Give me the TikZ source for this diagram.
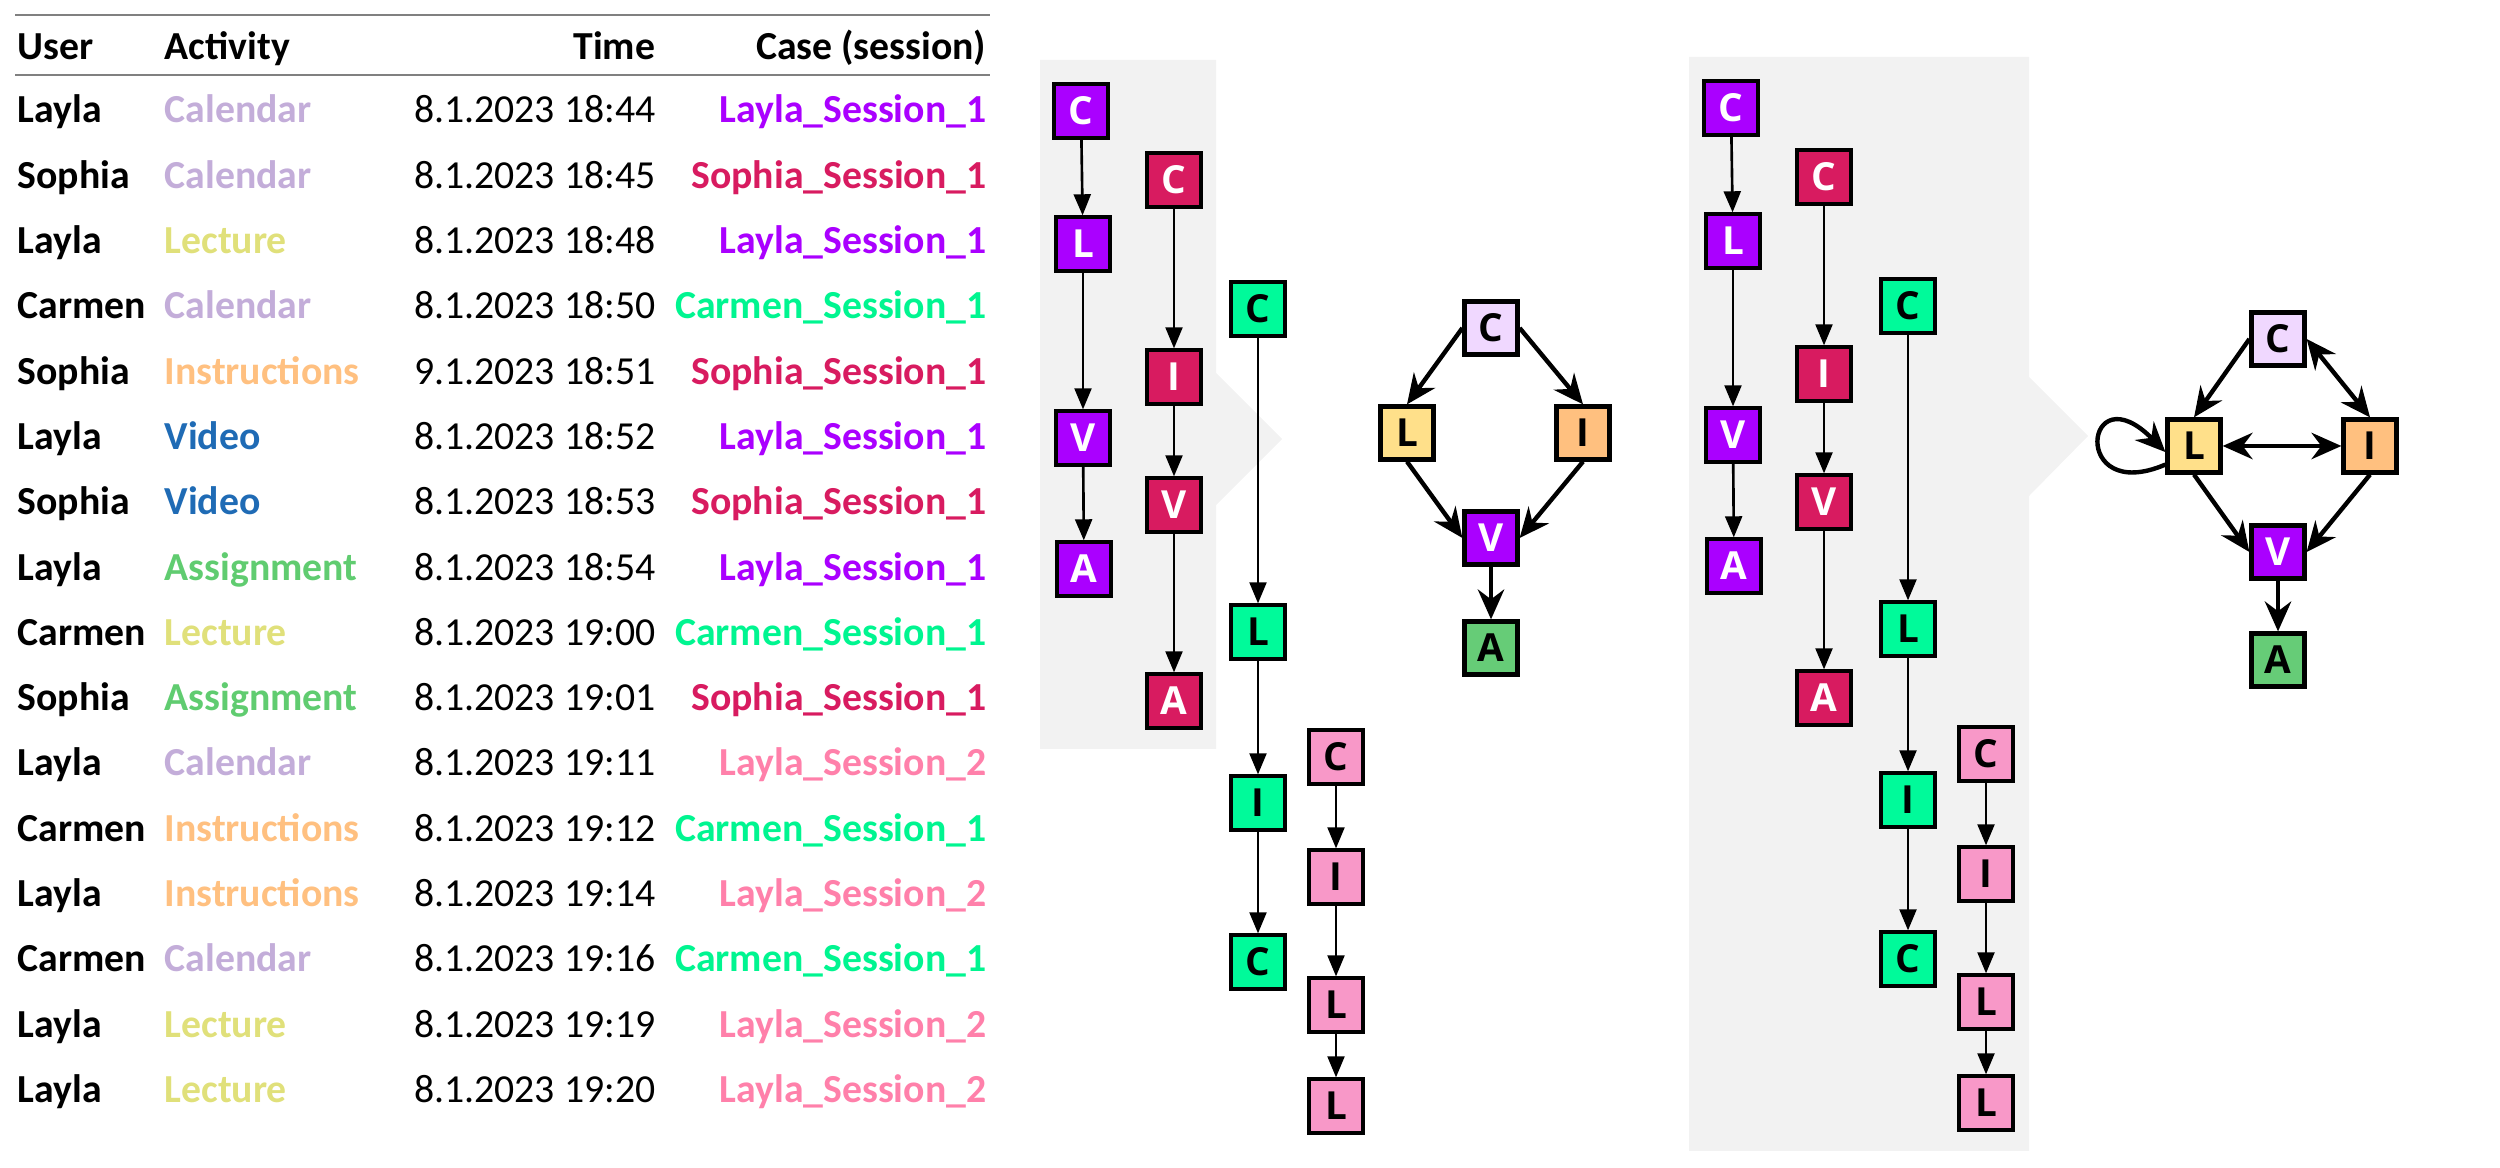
\documentclass[tikz,border=0pt]{standalone}
\usepackage{fontspec}
\setmainfont{Carlito}
\newfontfamily\letterfont{Open Sans}
\usetikzlibrary{arrows.meta}

\definecolor{layone}{HTML}{AA00FF}
\definecolor{sophone}{HTML}{D81B60}
\definecolor{carmtxt}{HTML}{00F590}
\definecolor{carmone}{HTML}{00FA9A}
\definecolor{laytwotxt}{HTML}{FF80AA}
\definecolor{laytwo}{HTML}{F898C8}
\definecolor{caltxt}{HTML}{C3ADD9}
\definecolor{lectxt}{HTML}{E0E07A}
\definecolor{instxt}{HTML}{FFC080}
\definecolor{vidtxt}{HTML}{1F6BB5}
\definecolor{asstxt}{HTML}{60CC70}
\definecolor{calfill}{HTML}{F0D8FF}
\definecolor{lecfill}{HTML}{FFE08A}
\definecolor{insfill}{HTML}{FFC07F}
\definecolor{assfill}{HTML}{66CC77}
\definecolor{panelgray}{HTML}{F2F2F2}
\definecolor{rulegray}{HTML}{808080}

\tikzset{
cell/.style={inner sep=0pt, font=\fontsize{11.3}{13}\selectfont},
trc/.style={draw, line width=0.9pt, minimum size=0.54cm, inner sep=0pt, font=\letterfont\bfseries\fontsize{11}{13}\selectfont},
dfg/.style={draw, line width=1.2pt, minimum size=0.53cm, inner sep=0pt, font=\letterfont\bfseries\fontsize{11}{13}\selectfont},
lay1/.style={trc, fill=layone, text=white},
sop1/.style={trc, fill=sophone, text=white},
car1/.style={trc, fill=carmone},
lay2/.style={trc, fill=laytwo},
dtip/.tip={Stealth[length=8.5pt,width=7.5pt,inset=2.8pt]},
tarr/.style={-{Triangle[length=6pt,width=4.8pt]}, line width=0.75pt},
darr/.style={-dtip, line width=1.25pt},
dboth/.style={dtip-dtip, line width=1.25pt}
}

\begin{document}
\begin{tikzpicture}[x=0.01cm, y=-0.01cm]
\useasboundingbox (0,0) rectangle (2500,1168);

\draw[rulegray, line width=0.6pt] (15,15)--(990,15);
\draw[rulegray, line width=0.6pt] (15,75)--(990,75);
\node[cell, anchor=base west] (hu) at (17,60) {\textbf{User}};
\node[cell, anchor=base west] (ha) at (164,60) {\textbf{Activity}};
\node[cell, anchor=base east] (ht) at (656,60) {\textbf{Time}};
\node[cell, anchor=base east] (hs) at (987,60) {\textbf{Case (session)}};

\foreach \u/\a/\ac/\t/\s/\sc [count=\i] in {
Layla/Calendar/caltxt/8.1.2023 18:44/Layla\_Session\_1/layone,
Sophia/Calendar/caltxt/8.1.2023 18:45/Sophia\_Session\_1/sophone,
Layla/Lecture/lectxt/8.1.2023 18:48/Layla\_Session\_1/layone,
Carmen/Calendar/caltxt/8.1.2023 18:50/Carmen\_Session\_1/carmtxt,
Sophia/Instructions/instxt/9.1.2023 18:51/Sophia\_Session\_1/sophone,
Layla/Video/vidtxt/8.1.2023 18:52/Layla\_Session\_1/layone,
Sophia/Video/vidtxt/8.1.2023 18:53/Sophia\_Session\_1/sophone,
Layla/Assignment/asstxt/8.1.2023 18:54/Layla\_Session\_1/layone,
Carmen/Lecture/lectxt/8.1.2023 19:00/Carmen\_Session\_1/carmtxt,
Sophia/Assignment/asstxt/8.1.2023 19:01/Sophia\_Session\_1/sophone,
Layla/Calendar/caltxt/8.1.2023 19:11/Layla\_Session\_2/laytwotxt,
Carmen/Instructions/instxt/8.1.2023 19:12/Carmen\_Session\_1/carmtxt,
Layla/Instructions/instxt/8.1.2023 19:14/Layla\_Session\_2/laytwotxt,
Carmen/Calendar/caltxt/8.1.2023 19:16/Carmen\_Session\_1/carmtxt,
Layla/Lecture/lectxt/8.1.2023 19:19/Layla\_Session\_2/laytwotxt,
Layla/Lecture/lectxt/8.1.2023 19:20/Layla\_Session\_2/laytwotxt}{
\pgfmathsetmacro{\yb}{123+(\i-1)*65.3}
\node[cell, anchor=base west] (u\i) at (17,\yb) {\textbf{\u}};
\node[cell, anchor=base west, text=\ac] (a\i) at (164,\yb) {\textbf{\a}};
\node[cell, anchor=base east] (t\i) at (656,\yb) {\t};
\node[cell, anchor=base east, text=\sc] (s\i) at (987,\yb) {\textbf{\s}};
}

\fill[panelgray] (1040,60)--(1216,60)--(1216,373)--(1282,439)--(1216,505)--(1216,749)--(1040,749)--cycle;
\fill[panelgray] (1689,57)--(2029,57)--(2029,377)--(2088,436)--(2029,496)--(2029,1151)--(1689,1151)--cycle;

\foreach \p/\dx/\dy in {a/0/0, b/650/-3}{
\begin{scope}[shift={(\dx,\dy)}]
\node[lay1] (\p-lc) at (1081,111) {C};
\node[lay1] (\p-ll) at (1083,244) {L};
\node[lay1] (\p-lv) at (1083,438) {V};
\node[lay1] (\p-la) at (1084,569) {A};
\node[sop1] (\p-sc) at (1174,180) {C};
\node[sop1] (\p-si) at (1174,377) {I};
\node[sop1] (\p-sv) at (1174,505) {V};
\node[sop1] (\p-sa) at (1174,701) {A};
\node[car1] (\p-cc) at (1258,309) {C};
\node[car1] (\p-cl) at (1258,632) {L};
\node[car1] (\p-ci) at (1258,803) {I};
\node[car1] (\p-ce) at (1258,962) {C};
\node[lay2] (\p-mc) at (1336,757) {C};
\node[lay2] (\p-mi) at (1336,877) {I};
\node[lay2] (\p-ml) at (1336,1005) {L};
\node[lay2] (\p-me) at (1336,1106) {L};
\draw[tarr] (\p-lc)--(\p-ll);
\draw[tarr] (\p-ll)--(\p-lv);
\draw[tarr] (\p-lv)--(\p-la);
\draw[tarr] (\p-sc)--(\p-si);
\draw[tarr] (\p-si)--(\p-sv);
\draw[tarr] (\p-sv)--(\p-sa);
\draw[tarr] (\p-cc)--(\p-cl);
\draw[tarr] (\p-cl)--(\p-ci);
\draw[tarr] (\p-ci)--(\p-ce);
\draw[tarr] (\p-mc)--(\p-mi);
\draw[tarr] (\p-mi)--(\p-ml);
\draw[tarr] (\p-ml)--(\p-me);
\end{scope}
}

\node[dfg, fill=calfill] (d1c) at (1491,328) {C};
\node[dfg, fill=lecfill] (d1l) at (1407,433) {L};
\node[dfg, fill=insfill] (d1i) at (1583,433) {I};
\node[dfg, fill=layone, text=white] (d1v) at (1491,538) {V};
\node[dfg, fill=assfill] (d1a) at (1491,648) {A};
\draw[darr] (d1c.west)--(d1l.north);
\draw[darr] (d1c.east)--(d1i.north);
\draw[darr] (d1l.south)--(d1v.west);
\draw[darr] (d1i.south)--(d1v.east);
\draw[darr] (d1v)--(d1a);

\node[dfg, fill=calfill] (d2c) at (2278,339) {C};
\node[dfg, fill=lecfill] (d2l) at (2194,446) {L};
\node[dfg, fill=insfill] (d2i) at (2370,446) {I};
\node[dfg, fill=layone, text=white] (d2v) at (2278,552) {V};
\node[dfg, fill=assfill] (d2a) at (2278,660) {A};
\draw[darr] (d2c.west)--(d2l.north);
\draw[dboth] (d2c.east)--(d2i.north);
\draw[dboth] (d2l)--(d2i);
\draw[darr] (d2l.south)--(d2v.west);
\draw[darr] (d2i.south)--(d2v.east);
\draw[darr] (d2v)--(d2a);
\draw[darr] (d2l.213) .. controls +(-96,41) and +(-81,-82) .. (d2l.192);
\end{tikzpicture}
\end{document}
